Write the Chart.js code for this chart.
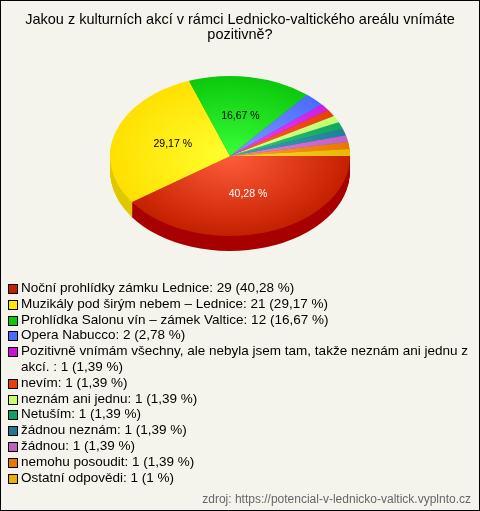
<!DOCTYPE html>
<html>
<head>
<meta charset="utf-8">
<style>
html, body { margin: 0; padding: 0; background: #fff; }
#wrap { position: relative; width: 480px; height: 511px; box-sizing: border-box; background: #f5f4ec; border: 1px solid #000; overflow: hidden; font-family: "Liberation Sans", Arial, sans-serif; }
#pie { position: absolute; left: -1px; top: -1px; }
#title { position: absolute; left: 0; width: 478px; top: 11px; text-align: center; font-size: 14.5px; line-height: 15px; color: #000; }
#legend { position: absolute; left: 7px; top: 279px; width: 470px; font-size: 13.5px; line-height: 15.8px; color: #000; }
#legend .row { position: relative; padding-left: 13px; }
#legend .box { position: absolute; left: 0; top: 4px; width: 8px; height: 8px; border: 1px solid #000; }
#source { position: absolute; right: 8px; top: 491px; font-size: 12px; color: #666; }
</style>
</head>
<body>
<div id="wrap">
    <canvas id="pie" width="480" height="511"></canvas>
    <div id="title">Jakou z kulturních akcí v rámci Lednicko-valtického areálu vnímáte<br>pozitivně?</div>
    <div id="legend"></div>
    <div id="source">zdroj: https://potencial-v-lednicko-valtick.vyplnto.cz</div>
</div>
<script src="https://cdn.jsdelivr.net/npm/chart.js@4"></script>
<script>
const categories = [
    'Noční prohlídky zámku Lednice', 'Muzikály pod širým nebem – Lednice', 'Prohlídka Salonu vín – zámek Valtice',
    'Opera Nabucco', 'Pozitivně vnímám všechny, ale nebyla jsem tam, takže neznám ani jednu z akcí. ', ' nevím',
    'neznám ani jednu', 'Netuším', 'žádnou neznám', 'žádnou', 'nemohu posoudit', 'Ostatní odpovědi'
];
const counts = [29, 21, 12, 2, 1, 1, 1, 1, 1, 1, 1, 1];
const percentLabels = ['40,28 %', '29,17 %', '16,67 %', '2,78 %', '1,39 %', '1,39 %', '1,39 %', '1,39 %', '1,39 %', '1,39 %', '1,39 %', '1 %'];
const edgeColors = ['#c42000', '#ffe000', '#0cc80c', '#4a6cff', '#d01ee0', '#e84008', '#c0ff70', '#10a860', '#208098', '#c060c8', '#e87800', '#e8b800'];
const centerColors = ['#ff5c3c', '#ffff30', '#38ff38', '#8098ff', '#f040ff', '#ff6030', '#e0ff90', '#30c880', '#40a0b8', '#e080e0', '#ffa030', '#ffd830'];
const sideColors = ['#a80000', '#e0c800', '#08a008', '#3050d0', '#a010b0', '#b83000', '#98d058', '#088048', '#106078', '#984898', '#b86000', '#c09800'];
const legendColors = ['#c42000', '#ffe800', '#0cc80c', '#4a6cff', '#d010d8', '#e84008', '#c8ff70', '#10a060', '#207890', '#c060c0', '#e87800', '#e8b000'];

// squash the round pie into the tilted look
const pieCx = 230, pieCy = 156, squash = 80 / 120, depth = 15;

function tilt(ctx, dy) {
    ctx.translate(pieCx, pieCy + dy);
    ctx.scale(1, squash);
    ctx.translate(-pieCx, -pieCy);
}

const tiltPlugin = {
    id: 'tilt',
    beforeDatasetDraw(chart) {
        const ctx = chart.ctx;
        const arcs = chart.getDatasetMeta(0).data;
        // side wall: only slices on the front half are visible, painted bottom up
        for (let dy = depth; dy > 0; dy--) {
            ctx.save();
            tilt(ctx, dy);
            arcs.forEach((arc, i) => {
                const side = Object.create(arc);
                side.options = Object.assign({}, arc.options, { backgroundColor: sideColors[i], borderColor: sideColors[i] });
                side.draw(ctx);
            });
            ctx.restore();
        }
        ctx.save();
        tilt(ctx, 0);
    },
    afterDatasetDraw(chart) {
        const ctx = chart.ctx;
        ctx.restore();
        // value labels on the three large slices
        const arcs = chart.getDatasetMeta(0).data;
        ctx.save();
        ctx.font = '10.5px "Liberation Sans", Arial, sans-serif';
        ctx.textAlign = 'center';
        ctx.textBaseline = 'middle';
        [0, 1, 2].forEach(i => {
            const p = arcs[i].tooltipPosition();
            ctx.fillStyle = i === 0 ? '#fff' : '#000';
            ctx.fillText(percentLabels[i], p.x, pieCy + (p.y - pieCy) * squash);
        });
        ctx.restore();
    }
};

function sliceGradient(c) {
    const i = c.dataIndex;
    const g = c.chart.ctx.createRadialGradient(pieCx, pieCy, 0, pieCx, pieCy, 120);
    g.addColorStop(0, centerColors[i]);
    g.addColorStop(1, edgeColors[i]);
    return g;
}

new Chart(document.getElementById('pie'), {
    type: 'pie',
    data: {
        labels: categories,
        datasets: [{ data: counts, backgroundColor: sliceGradient, borderWidth: 0 }]
    },
    options: {
        responsive: false,
        animation: false,
        rotation: 90,
        radius: 120,
        layout: { padding: { left: 0, right: 20, top: 36, bottom: 235 } },
        plugins: { legend: { display: false }, tooltip: { enabled: false }, title: { display: false } }
    },
    plugins: [tiltPlugin]
});

const legend = document.getElementById('legend');
categories.forEach((name, i) => {
    const row = document.createElement('div');
    row.className = 'row';
    row.innerHTML = `<span class="box" style="background:${legendColors[i]}"></span>${name}: ${counts[i]} (${percentLabels[i]})`;
    legend.appendChild(row);
});
</script>
</body>
</html>
